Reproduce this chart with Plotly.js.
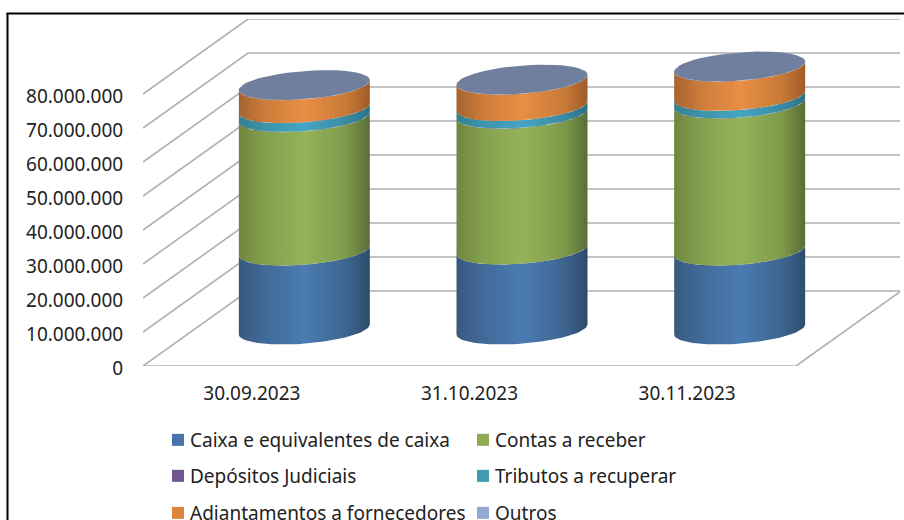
<!DOCTYPE html>
<html>
<head>
<meta charset="utf-8">
<script src="https://cdn.plot.ly/plotly-3.0.1.min.js"></script>
<style>html,body{margin:0;padding:0;background:#fff;overflow:hidden}</style>
</head>
<body>
<div id="chart" style="width:904px;height:520px"></div>
<script>
const categories = ['30.09.2023', '31.10.2023', '30.11.2023'];
const caixa = [23200000, 23500000, 23200000];
const contas = [39250000, 39950000, 43250000];
const depositos = [50000, 50000, 50000];
const tributos = [2600000, 2200000, 2200000];
const adiantamentos = [6750000, 7750000, 8600000];
const outros = [50000, 50000, 50000];
const yTicks = [0, 10000000, 20000000, 30000000, 40000000, 50000000, 60000000, 70000000, 80000000];

const seriesNames = ['Caixa e equivalentes de caixa', 'Contas a receber', 'Depósitos Judiciais',
  'Tributos a recuperar', 'Adiantamentos a fornecedores', 'Outros'];
const seriesValues = [caixa, contas, depositos, tributos, adiantamentos, outros];
const legendColors = ['#4674ab', '#8fab52', '#70558f', '#4199b2', '#db843d', '#93a9cf'];
const edgeL = ['#38597f', '#71853f', '#54406c', '#34808f', '#a5642f', '#717f9f'];
const near = ['#416a98', '#84a04e', '#6a5088', '#3d93ab', '#cc7c3a', '#717f9f'];
const mid = ['#4a7bb2', '#94b358', '#7a5e9c', '#45a5c2', '#e98e44', '#717f9f'];
const farR = ['#3e6590', '#7f9a4b', '#634b80', '#3a8ba3', '#c87a38', '#717f9f'];
const edgeR = ['#2e4c6c', '#5a6e38', '#443458', '#2c7288', '#a05c28', '#717f9f'];

// frame of the pseudo-3D box, in pixels on the page
const L = 143, R = 900, T = 19, B = 366;
const pxPerUnit = 653 / 3, pxPerVal = 34 / 10000000;
const depthX = 105, depthY = 75;
const xMin = -0.5, xMax = xMin + (R - L) / pxPerUnit, yMax = (B - T) / pxPerVal;
const dX = depthX / pxPerUnit, dY = depthY / pxPerVal;
const cylA = 65.5 / pxPerUnit, cylB = 14.1 / pxPerVal, cylTilt = 5 / pxPerVal;
const cylDx = 0.5 * dX, cylDy = 36.5 / pxPerVal;

const traces = [];
const lineStyle = {color: '#b0b0b0', width: 1.6};
function wall(x, y) {
  traces.push({x, y, mode: 'lines', line: lineStyle, hoverinfo: 'skip', showlegend: false});
}
yTicks.forEach(v => {
  wall([xMin, xMin + dX, xMax], [v, v + dY, v + dY]);
});
wall([xMin, xMin + 3], [0, 0]);
wall([xMin + 3, xMin + 3 + dX], [0, dY]);

function arc(cx, cy, from, to) {
  const xs = [], ys = [], n = 48;
  for (let i = 0; i <= n; i++) {
    const t = from + (to - from) * i / n;
    xs.push(cx + cylA * Math.cos(t));
    ys.push(cy + cylTilt * Math.cos(t) + cylB * Math.sin(t));
  }
  return [xs, ys];
}

categories.forEach((c, i) => {
  const cx = i + cylDx;
  let base = cylDy;
  seriesValues.forEach((vals, s) => {
    const top = base + vals[i];
    const low = arc(cx, base, Math.PI, 2 * Math.PI);
    const up = arc(cx, top, 2 * Math.PI, Math.PI);
    traces.push({
      x: low[0].concat(up[0]), y: low[1].concat(up[1]),
      mode: 'lines', fill: 'toself', line: {width: 0},
      fillgradient: {type: 'horizontal', start: cx - cylA, stop: cx + cylA,
        colorscale: [[0, edgeL[s]], [0.2, near[s]], [0.5, mid[s]], [0.82, farR[s]], [1, edgeR[s]]]},
      hoverinfo: 'skip', showlegend: false
    });
    base = top;
  });
  const cap = arc(cx, base, 0, 2 * Math.PI);
  traces.push({x: cap[0], y: cap[1], mode: 'lines', fill: 'toself', line: {width: 0},
    fillcolor: '#717f9f', hoverinfo: 'skip', showlegend: false});
});

const legendIds = ['legend', 'legend', 'legend2', 'legend2', 'legend3', 'legend3'];
seriesNames.forEach((name, s) => {
  traces.push({x: [null], y: [null], name, mode: 'markers', legend: legendIds[s],
    marker: {symbol: 'square', size: 12, color: legendColors[s]}});
});

const paperX = px => (px - L) / (R - L);
const paperY = py => (B - py) / (B - T);
const textFont = {family: 'Noto Sans, sans-serif', size: 19, color: '#222'};
function legendAt(py) {
  return {orientation: 'h', x: paperX(165), xanchor: 'left', y: paperY(py), yanchor: 'middle',
    font: textFont, entrywidth: 275, entrywidthmode: 'pixels', indentation: -15,
    bgcolor: 'rgba(0,0,0,0)', borderwidth: 0, traceorder: 'normal'};
}

const layout = {
  width: 904, height: 520,
  margin: {l: L, r: 904 - R, t: T, b: 520 - B, autoexpand: false},
  paper_bgcolor: '#fff', plot_bgcolor: 'rgba(0,0,0,0)',
  separators: ',.',
  showlegend: true,
  legend: legendAt(440), legend2: legendAt(476), legend3: legendAt(513),
  xaxis: {range: [xMin, xMax], tickmode: 'array', tickvals: [0, 1, 2], ticktext: categories,
    showgrid: false, zeroline: false, showline: false,
    ticks: 'outside', ticklen: 10, tickcolor: 'rgba(0,0,0,0)', tickfont: textFont},
  yaxis: {range: [0, yMax], tickmode: 'array', tickvals: yTicks, tickformat: ',d',
    showgrid: false, zeroline: false, showline: false,
    ticks: 'outside', ticklen: 15, tickcolor: 'rgba(0,0,0,0)', ticklabelshift: 2, tickfont: textFont},
  shapes: [
    {type: 'line', xref: 'paper', yref: 'paper', x0: paperX(7.5), x1: paperX(7.5), y0: paperY(13), y1: paperY(520),
      line: {color: '#000', width: 2}},
    {type: 'line', xref: 'paper', yref: 'paper', x0: paperX(6.5), x1: paperX(904), y0: paperY(13.5), y1: paperY(13.5),
      line: {color: '#000', width: 2}}
  ]
};
Plotly.newPlot('chart', traces, layout, {displayModeBar: false, staticPlot: true}).then(() => {
  document.querySelectorAll('.legendsymbols').forEach(g => g.setAttribute('transform', 'translate(8,0)'));
});
</script>
</body>
</html>
